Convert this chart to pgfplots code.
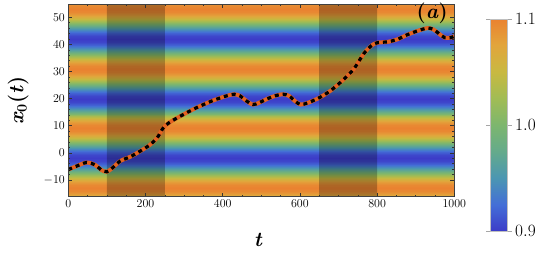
\documentclass[border=0pt]{standalone}
\usepackage{pgfplots}
\pgfplotsset{compat=1.18}
\definecolor{curveor}{RGB}{228,98,32}
\pgfplotsset{colormap={mycm}{rgb255(0cm)=(60,60,200); rgb255(1cm)=(68,110,215); rgb255(2cm)=(75,150,178); rgb255(3cm)=(100,170,140); rgb255(4cm)=(125,182,110); rgb255(5cm)=(160,188,85); rgb255(6cm)=(200,185,65); rgb255(7cm)=(226,165,60); rgb255(8cm)=(234,130,48)}}
\pgfplotstableread{
t y v
0 -17.4 1.0309
1000 -17.4 1.0309
0 -16.3 1.0588
1000 -16.3 1.0588
0 -15.2 1.0809
1000 -15.2 1.0809
0 -14.1 1.0951
1000 -14.1 1.0951
0 -13.0 1.1
1000 -13.0 1.1
0 -11.9 1.0951
1000 -11.9 1.0951
0 -10.8 1.0809
1000 -10.8 1.0809
0 -9.7 1.0588
1000 -9.7 1.0588
0 -8.6 1.0309
1000 -8.6 1.0309
0 -7.5 1.0
1000 -7.5 1.0
0 -6.4 0.9691
1000 -6.4 0.9691
0 -5.3 0.9412
1000 -5.3 0.9412
0 -4.2 0.9191
1000 -4.2 0.9191
0 -3.1 0.9049
1000 -3.1 0.9049
0 -2.0 0.9
1000 -2.0 0.9
0 -0.9 0.9049
1000 -0.9 0.9049
0 0.2 0.9191
1000 0.2 0.9191
0 1.3 0.9412
1000 1.3 0.9412
0 2.4 0.9691
1000 2.4 0.9691
0 3.5 1.0
1000 3.5 1.0
0 4.6 1.0309
1000 4.6 1.0309
0 5.7 1.0588
1000 5.7 1.0588
0 6.8 1.0809
1000 6.8 1.0809
0 7.9 1.0951
1000 7.9 1.0951
0 9.0 1.1
1000 9.0 1.1
0 10.1 1.0951
1000 10.1 1.0951
0 11.2 1.0809
1000 11.2 1.0809
0 12.3 1.0588
1000 12.3 1.0588
0 13.4 1.0309
1000 13.4 1.0309
0 14.5 1.0
1000 14.5 1.0
0 15.6 0.9691
1000 15.6 0.9691
0 16.7 0.9412
1000 16.7 0.9412
0 17.8 0.9191
1000 17.8 0.9191
0 18.9 0.9049
1000 18.9 0.9049
0 20.0 0.9
1000 20.0 0.9
0 21.1 0.9049
1000 21.1 0.9049
0 22.2 0.9191
1000 22.2 0.9191
0 23.3 0.9412
1000 23.3 0.9412
0 24.4 0.9691
1000 24.4 0.9691
0 25.5 1.0
1000 25.5 1.0
0 26.6 1.0309
1000 26.6 1.0309
0 27.7 1.0588
1000 27.7 1.0588
0 28.8 1.0809
1000 28.8 1.0809
0 29.9 1.0951
1000 29.9 1.0951
0 31.0 1.1
1000 31.0 1.1
0 32.1 1.0951
1000 32.1 1.0951
0 33.2 1.0809
1000 33.2 1.0809
0 34.3 1.0588
1000 34.3 1.0588
0 35.4 1.0309
1000 35.4 1.0309
0 36.5 1.0
1000 36.5 1.0
0 37.6 0.9691
1000 37.6 0.9691
0 38.7 0.9412
1000 38.7 0.9412
0 39.8 0.9191
1000 39.8 0.9191
0 40.9 0.9049
1000 40.9 0.9049
0 42.0 0.9
1000 42.0 0.9
0 43.1 0.9049
1000 43.1 0.9049
0 44.2 0.9191
1000 44.2 0.9191
0 45.3 0.9412
1000 45.3 0.9412
0 46.4 0.9691
1000 46.4 0.9691
0 47.5 1.0
1000 47.5 1.0
0 48.6 1.0309
1000 48.6 1.0309
0 49.7 1.0588
1000 49.7 1.0588
0 50.8 1.0809
1000 50.8 1.0809
0 51.9 1.0951
1000 51.9 1.0951
0 53.0 1.1
1000 53.0 1.1
0 54.1 1.0951
1000 54.1 1.0951
0 55.2 1.0809
1000 55.2 1.0809
}\fieldtable
\pgfplotstableread{
x y v
0 0.9 0.9
1 0.9 0.9
0 0.925 0.925
1 0.925 0.925
0 0.95 0.95
1 0.95 0.95
0 0.975 0.975
1 0.975 0.975
0 1.0 1.0
1 1.0 1.0
0 1.025 1.025
1 1.025 1.025
0 1.05 1.05
1 1.05 1.05
0 1.075 1.075
1 1.075 1.075
0 1.1 1.1
1 1.1 1.1
}\cbtable
\begin{document}
\begin{tikzpicture}
\begin{axis}[
  at={(0pt,0pt)}, anchor=south west,
  view={0}{90},
  scale only axis, width=386pt, height=192.4pt,
  xmin=0, xmax=1000, ymin=-16.2, ymax=54.8,
  xtick={0,200,...,1000}, ytick={-10,0,...,50},
  minor x tick num=3, minor y tick num=4,
  tick align=inside,
  major tick length=4pt, minor tick length=2pt,
  tick style={color=black!80, line width=0.5pt},
  axis line style={color=black!75, line width=0.8pt},
  tick label style={font=\fontsize{12}{12}\selectfont},
  /pgf/number format/1000 sep={},
  colormap name=mycm,
  point meta min=0.9, point meta max=1.1,
  axis on top,
]
\addplot3[surf, shader=interp, mesh/cols=2] table[x=t, y=y, z=v] {\fieldtable};
\addplot[draw=none, fill=black, fill opacity=0.25] coordinates {(100,-20) (250,-20) (250,60) (100,60) (100,-20)};
\addplot[draw=none, fill=black, fill opacity=0.25] coordinates {(650,-20) (800,-20) (800,60) (650,60) (650,-20)};
\addplot[smooth, line width=4pt, color=curveor] coordinates {
(0,-6.2) (20,-5) (47,-3.6) (70,-4.5) (85,-6.3) (100,-7.0) (115,-5.5) (135,-3.0) (160,-1.5) (185,0.5) (210,2.8) (230,5.5) (245,9) (260,11) (290,13.5) (330,16.5) (375,19.3) (410,21) (430,21.6) (445,21) (460,19.3) (478,17.8) (495,18.5) (515,19.9) (540,21.2) (557,21.6) (572,21) (588,19) (602,17.8) (620,18.4) (650,20.3) (680,23) (712,26.9) (740,31) (765,36.5) (785,39.5) (800,40.6) (830,41) (855,42) (877,43.5) (905,45) (930,46) (945,45.6) (960,44) (975,42.5) (990,42.5) (1000,43)};
\addplot[smooth, line width=3.2pt, color=black, dash pattern=on 4pt off 4pt] coordinates {
(0,-6.2) (20,-5) (47,-3.6) (70,-4.5) (85,-6.3) (100,-7.0) (115,-5.5) (135,-3.0) (160,-1.5) (185,0.5) (210,2.8) (230,5.5) (245,9) (260,11) (290,13.5) (330,16.5) (375,19.3) (410,21) (430,21.6) (445,21) (460,19.3) (478,17.8) (495,18.5) (515,19.9) (540,21.2) (557,21.6) (572,21) (588,19) (602,17.8) (620,18.4) (650,20.3) (680,23) (712,26.9) (740,31) (765,36.5) (785,39.5) (800,40.6) (830,41) (855,42) (877,43.5) (905,45) (930,46) (945,45.6) (960,44) (975,42.5) (990,42.5) (1000,43)};
\end{axis}
\node[anchor=north east, font=\fontsize{20.74}{20.74}\selectfont\bfseries, inner sep=1.5pt] at (381pt,195.5pt) {(\textit{a})};
\node[anchor=center, rotate=90, font=\fontsize{20.74}{20.74}\selectfont\bfseries] at (-50pt,96pt) {\textit{x}$_{\mathbf{0}}$(\textit{t})};
\node[anchor=center, font=\fontsize{20.74}{20.74}\selectfont\bfseries] at (190pt,-43pt) {\textit{t}};
\begin{axis}[
  at={(421.7pt,-34.3pt)}, anchor=south west,
  view={0}{90},
  scale only axis, width=17.7pt, height=212pt,
  xmin=0, xmax=1, ymin=0.9, ymax=1.1,
  xtick=\empty, ytick={0.9,1.0,1.1},
  yticklabel pos=right,
  tick align=outside,
  major tick length=4pt,
  tick style={color=gray!70, line width=0.8pt},
  axis line style={color=gray!50, line width=0.6pt},
  tick label style={font=\fontsize{17.28}{17.28}\selectfont},
  yticklabel style={/pgf/number format/fixed, /pgf/number format/fixed zerofill, /pgf/number format/precision=1},
  colormap name=mycm,
  point meta min=0.9, point meta max=1.1,
  axis on top,
]
\addplot3[surf, shader=interp, mesh/cols=2] table[x=x, y=y, z=v] {\cbtable};
\end{axis}
\path (-68.3pt,-65.3pt) rectangle (482.7pt,196.7pt);
\end{tikzpicture}
\end{document}
